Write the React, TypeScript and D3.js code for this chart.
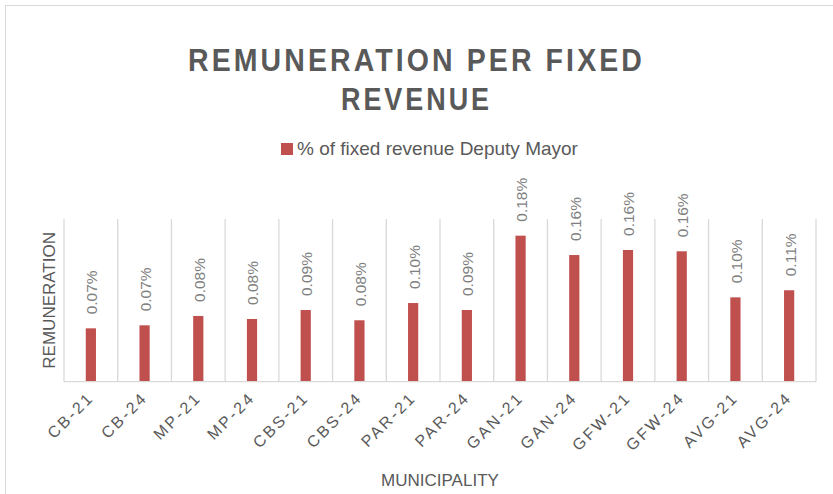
import React, { useEffect, useRef } from 'react';
import * as d3 from 'd3';

const categories = [
  'CB-21', 'CB-24', 'MP-21', 'MP-24', 'CBS-21', 'CBS-24', 'PAR-21',
  'PAR-24', 'GAN-21', 'GAN-24', 'GFW-21', 'GFW-24', 'AVG-21', 'AVG-24',
];
// % of fixed revenue, Deputy Mayor
const deputyMayor = [
  0.0656, 0.0693, 0.0808, 0.0771, 0.0881, 0.0755, 0.0967,
  0.0881, 0.1795, 0.1557, 0.1619, 0.1603, 0.1037, 0.1124,
];
const seriesName = '% of fixed revenue Deputy Mayor';
const titleLines = ['REMUNERATION PER FIXED', 'REVENUE'];
const yDomain = [0, 0.2];

export default function App() {
  const svgRef = useRef<SVGSVGElement>(null);

  useEffect(() => {
    const W = 833;
    const H = 494;
    const plot = { left: 64, right: 816, top: 219, bottom: 381.7 };
    const font = "'Liberation Sans', Arial, sans-serif";
    const textCol = '#595959';
    const grid = '#d9d9d9';
    const barCol = '#c0504d';

    const svg = d3.select(svgRef.current).attr('width', W).attr('height', H);
    svg.selectAll('*').remove();

    svg.append('rect').attr('width', W).attr('height', H).attr('fill', '#fff');
    svg
      .append('rect')
      .attr('x', 5.5)
      .attr('y', 5.5)
      .attr('width', 900)
      .attr('height', 600)
      .attr('fill', 'none')
      .attr('stroke', grid);

    // title
    const titleWidths = [457, 151];
    const titleBase = [71, 109.5];
    titleLines.forEach((t, i) => {
      svg
        .append('text')
        .attr('x', 416.5)
        .attr('y', titleBase[i])
        .attr('text-anchor', 'middle')
        .attr('font-family', font)
        .attr('font-weight', 'bold')
        .attr('font-size', 32)
        .attr('letter-spacing', 3.5)
        .attr('textLength', titleWidths[i])
        .attr('lengthAdjust', 'spacingAndGlyphs')
        .attr('fill', textCol)
        .text(t);
    });

    // legend
    svg
      .append('rect')
      .attr('x', 281)
      .attr('y', 143)
      .attr('width', 12)
      .attr('height', 12)
      .attr('fill', barCol);
    svg
      .append('text')
      .attr('x', 297)
      .attr('y', 155)
      .attr('font-family', font)
      .attr('font-size', 19)
      .attr('fill', textCol)
      .text(seriesName);

    const x = d3.scaleBand().domain(categories).range([plot.left, plot.right]);
    const y = d3.scaleLinear().domain(yDomain).range([plot.bottom, plot.top]);
    const bw = x.bandwidth();

    // vertical separators between categories
    const bounds = categories.map((c) => x(c)!).concat([plot.right]);
    svg
      .append('g')
      .selectAll('line')
      .data(bounds)
      .join('line')
      .attr('x1', (d) => d)
      .attr('x2', (d) => d)
      .attr('y1', plot.top)
      .attr('y2', plot.bottom)
      .attr('stroke', grid)
      .attr('stroke-width', 1.3);

    // bars
    const barW = bw * 0.19;
    svg
      .append('g')
      .selectAll('rect')
      .data(deputyMayor)
      .join('rect')
      .attr('x', (d, i) => x(categories[i])! + bw / 2 - barW / 2)
      .attr('y', (d) => y(d))
      .attr('width', barW)
      .attr('height', (d) => plot.bottom - y(d))
      .attr('fill', barCol);

    // baseline
    svg
      .append('line')
      .attr('x1', plot.left)
      .attr('x2', plot.right)
      .attr('y1', plot.bottom)
      .attr('y2', plot.bottom)
      .attr('stroke', grid)
      .attr('stroke-width', 1.3);

    // data labels
    svg
      .append('g')
      .selectAll('text')
      .data(deputyMayor)
      .join('text')
      .attr('transform', (d, i) => {
        const cx = x(categories[i])! + bw / 2 + 1;
        return `translate(${cx},${y(d) - 14}) rotate(-90)`;
      })
      .attr('dy', '0.35em')
      .attr('font-family', font)
      .attr('font-size', 15.5)
      .attr('fill', '#7f7f7f')
      .text((d) => `${d.toFixed(2)}%`);

    // x tick labels
    svg
      .append('g')
      .selectAll('text')
      .data(categories)
      .join('text')
      .attr('transform', (c) => `translate(${x(c)! + bw / 2 + 4},${plot.bottom + 17}) rotate(-45)`)
      .attr('text-anchor', 'end')
      .attr('font-family', font)
      .attr('font-size', 16)
      .attr('letter-spacing', 2.5)
      .attr('fill', textCol)
      .text((c) => c);

    // axis titles
    svg
      .append('text')
      .attr('x', (plot.left + plot.right) / 2)
      .attr('y', 486)
      .attr('text-anchor', 'middle')
      .attr('font-family', font)
      .attr('font-size', 17)
      .attr('fill', textCol)
      .text('MUNICIPALITY');
    svg
      .append('text')
      .attr('transform', `translate(55,${(plot.top + plot.bottom) / 2}) rotate(-90)`)
      .attr('text-anchor', 'middle')
      .attr('font-family', font)
      .attr('font-size', 17)
      .attr('fill', textCol)
      .text('REMUNERATION');
  }, []);

  return <svg ref={svgRef} style={{ position: 'absolute', left: 0, top: 0 }}></svg>;
}
